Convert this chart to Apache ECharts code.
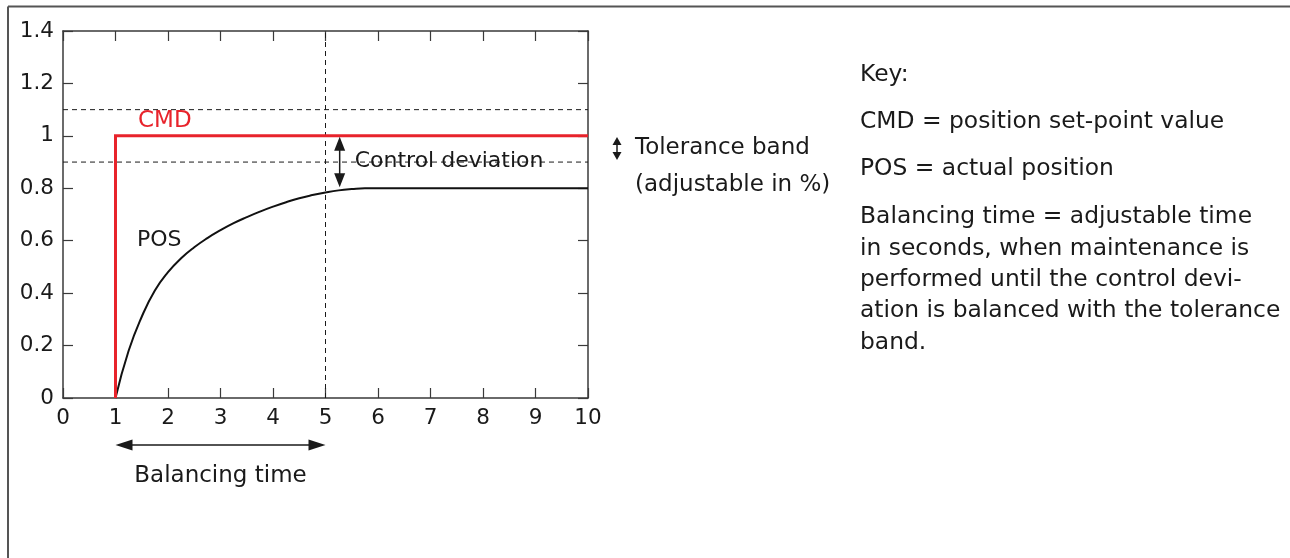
<!DOCTYPE html>
<html><head><meta charset="utf-8">
<script src="https://cdn.jsdelivr.net/npm/echarts@6/dist/echarts.min.js"></script>
<style>html,body{margin:0;padding:0;background:#fff}#c{width:1290px;height:558px}</style>
</head><body><div id="c"></div>
<script>
// ---- data ----
const xTicks = [0, 1, 2, 3, 4, 5, 6, 7, 8, 9, 10];
const yTicks = [0, 0.2, 0.4, 0.6, 0.8, 1, 1.2, 1.4];
const cmdX = [1, 1, 10];
const cmdY = [0, 1, 1];
const posX = [1, 1.25, 1.5, 1.75, 2, 2.25, 2.5, 2.75, 3, 3.25, 3.5, 3.75, 4, 4.25, 4.5, 4.75, 5, 5.25, 5.5, 5.75, 6, 7, 8, 9, 10];
const posY = [0, 0.18, 0.31, 0.41, 0.48, 0.533, 0.575, 0.61, 0.64, 0.667, 0.69, 0.711, 0.73, 0.747, 0.762, 0.774, 0.784, 0.792, 0.797, 0.8, 0.8, 0.8, 0.8, 0.8, 0.8];
const toleranceBand = [0.9, 1.1];
const balancingTime = [1, 5];
const controlDevX = 5.27;
const controlDevRange = [1.0, 0.8];
const keyLines = [
  'Key:',
  'CMD = position set-point value',
  'POS = actual position',
  'Balancing time = adjustable time',
  'in seconds, when maintenance is',
  'performed until the control devi-',
  'ation is balanced with the tolerance',
  'band.'
];

// ---- chart ----
const FONT = 'DejaVu Sans';
const INK = '#1a1a1a';
const RED = '#e8232b';
const AX = '#3a3a3a';
const chart = echarts.init(document.getElementById('c'), null, {renderer: 'canvas'});

const zip = (xs, ys) => xs.map((x, i) => [x, ys[i]]);
const axisCommon = (labels) => ({
  type: 'value',
  axisLine: {show: true, onZero: false, lineStyle: {color: AX, width: 1.5}},
  axisTick: {show: true, inside: true, length: 10, lineStyle: {color: AX, width: 1.2}},
  splitLine: {show: false},
  axisLabel: labels ? {show: true, fontFamily: FONT, fontSize: 21.5, color: INK, margin: 9,
    formatter: v => String(+v.toFixed(1))} : {show: false}
});
const dashStyle = {color: INK, width: 1, type: [5, 4]};

chart.setOption({
  animation: false,
  backgroundColor: '#fff',
  grid: {left: 63, top: 31, width: 525, height: 367, containLabel: false},
  xAxis: [
    Object.assign(axisCommon(true), {min: xTicks[0], max: xTicks[xTicks.length - 1], interval: 1, position: 'bottom'}),
    Object.assign(axisCommon(false), {min: xTicks[0], max: xTicks[xTicks.length - 1], interval: 1, position: 'top'})
  ],
  yAxis: [
    Object.assign(axisCommon(true), {min: yTicks[0], max: yTicks[yTicks.length - 1], interval: 0.2, position: 'left'}),
    Object.assign(axisCommon(false), {min: yTicks[0], max: yTicks[yTicks.length - 1], interval: 0.2, position: 'right'})
  ],
  series: [
    {type: 'line', name: 'upper', data: [[xTicks[0], toleranceBand[1]], [xTicks[xTicks.length - 1], toleranceBand[1]]],
      showSymbol: false, lineStyle: dashStyle, z: 1},
    {type: 'line', name: 'lower', data: [[xTicks[0], toleranceBand[0]], [xTicks[xTicks.length - 1], toleranceBand[0]]],
      showSymbol: false, lineStyle: dashStyle, z: 1},
    {type: 'line', name: 'balance', data: [[balancingTime[1], yTicks[0]], [balancingTime[1], yTicks[yTicks.length - 1]]],
      showSymbol: false, lineStyle: dashStyle, z: 1},
    {type: 'line', name: 'POS', data: zip(posX, posY), showSymbol: false, smooth: 0.5,
      lineStyle: {color: '#111', width: 2}, z: 3},
    {type: 'line', name: 'CMD', data: zip(cmdX, cmdY), showSymbol: false,
      lineStyle: {color: RED, width: 3, join: 'miter'}, z: 4}
  ]
});

// ---- annotations ----
const P = (x, y) => chart.convertToPixel({gridIndex: 0}, [x, y]);
const txt = (text, x, y, opt) => ({type: 'text', x: x, y: y, z: 10,
  style: Object.assign({text: text, fontFamily: FONT, fontSize: 23, fill: INK, align: 'left', verticalAlign: 'middle'}, opt || {})});
const tri = (tip, dir, len, half) => {
  const bx = tip[0] - dir[0] * len, by = tip[1] - dir[1] * len;
  const nx = -dir[1], ny = dir[0];
  return {type: 'polygon', z: 10, shape: {points: [tip, [bx + nx * half, by + ny * half], [bx - nx * half, by - ny * half]]},
    style: {fill: INK}};
};
const g = [];
// frame
g.push({type: 'line', z: 0, shape: {x1: 8, y1: 6.5, x2: 1290, y2: 6.5}, style: {stroke: '#555', lineWidth: 2}});
g.push({type: 'line', z: 0, shape: {x1: 8, y1: 6.5, x2: 8, y2: 558}, style: {stroke: '#555', lineWidth: 2}});

// control deviation arrow
const cdTop = P(controlDevX, controlDevRange[0]);
const cdBot = P(controlDevX, controlDevRange[1]);
g.push({type: 'line', z: 10, shape: {x1: cdTop[0], y1: cdTop[1] + 8, x2: cdBot[0], y2: cdBot[1] - 8}, style: {stroke: INK, lineWidth: 1.5}});
g.push(tri([cdTop[0], cdTop[1] + 1], [0, -1], 14, 5.5));
g.push(tri([cdBot[0], cdBot[1] - 1], [0, 1], 14, 5.5));
g.push(txt('Control deviation', cdTop[0] + 15, (P(0, toleranceBand[0])[1]) - 1, {fontSize: 22}));

// balancing time arrow
const bA = P(balancingTime[0], 0), bB = P(balancingTime[1], 0);
const by = bA[1] + 47;
g.push({type: 'line', z: 10, shape: {x1: bA[0] + 10, y1: by, x2: bB[0] - 10, y2: by}, style: {stroke: INK, lineWidth: 1.5}});
g.push(tri([bA[0], by], [-1, 0], 17, 5.5));
g.push(tri([bB[0], by], [1, 0], 17, 5.5));
g.push(txt('Balancing time', (bA[0] + bB[0]) / 2, by + 31, {align: 'center'}));

// series labels
g.push(txt('CMD', 138, 121, {fill: RED}));
g.push(txt('POS', 137, 240, {fontSize: 22}));

// tolerance band note
const tx = 617, ty1 = 137, ty2 = 160;
g.push({type: 'line', z: 10, shape: {x1: tx, y1: ty1 + 6, x2: tx, y2: ty2 - 6}, style: {stroke: INK, lineWidth: 1.5}});
g.push(tri([tx, ty1], [0, -1], 8, 4.5));
g.push(tri([tx, ty2], [0, 1], 8, 4.5));
g.push(txt('Tolerance band', 635, 148, {fontSize: 23}));
g.push(txt('(adjustable in %)', 635, 185, {fontSize: 23}));

// key
const keyY = [75, 122, 169, 217, 249, 280, 311, 343];
keyLines.forEach((s, i) => g.push(txt(s, 860, keyY[i], {fontSize: 23.4})));

chart.setOption({graphic: g});
</script></body></html>
